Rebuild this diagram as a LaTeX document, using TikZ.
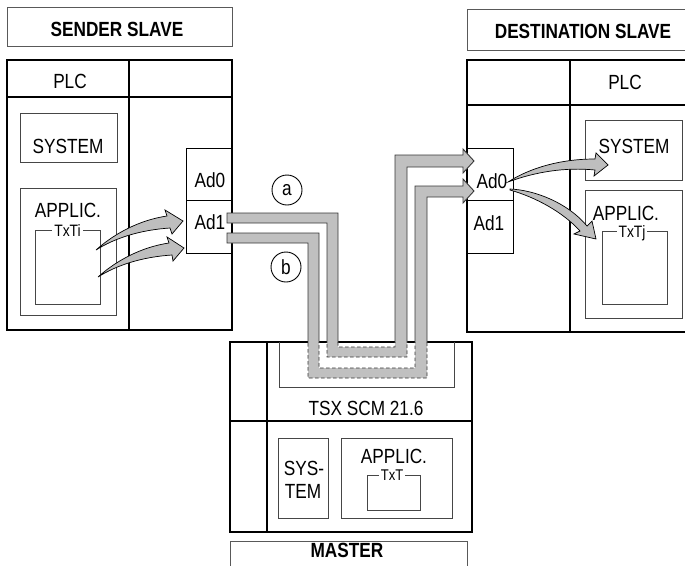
\documentclass[tikz,border=0pt]{standalone}
\usepackage{fontspec}
\setmainfont{Liberation Sans}[FakeStretch=0.84]
\definecolor{pipegray}{RGB}{192,192,192}
\definecolor{pipeedge}{RGB}{55,55,55}
\definecolor{arrowgray}{RGB}{190,190,190}
\definecolor{thinline}{RGB}{70,70,70}
\begin{document}
\begin{tikzpicture}[x=1pt,y=-1pt,
  thickbox/.style={draw=black, line width=2pt},
  thinbox/.style={draw=thinline, line width=0.9pt},
  adbox/.style={draw=black, line width=0.9pt},
  titlebox/.style={draw=black!65, line width=1pt},
  txt/.style={anchor=base, inner sep=0pt, font=\fontsize{20.5}{23}\selectfont},
  btxt/.style={anchor=base, inner sep=0pt, font=\fontsize{20.5}{23}\selectfont\bfseries},
  lbl/.style={anchor=base, inner xsep=2pt, inner ysep=0.3pt, fill=white, font=\fontsize{16.5}{19}\selectfont},
  slbl/.style={anchor=base, inner xsep=2pt, inner ysep=0.3pt, fill=white, font=\fontsize{15.5}{18}\selectfont},
  pipefill/.style={fill=pipegray},
  pipeline/.style={draw=pipeedge, line width=0.9pt},
  pipedash/.style={draw=pipeedge, line width=0.9pt, dash pattern=on 3.5pt off 2.5pt},
  swoosh/.style={fill=arrowgray, draw=black, line width=0.7pt, line join=miter},
  circ/.style={circle, draw=black, line width=0.9pt, minimum size=30pt, inner sep=0pt, font=\fontsize{20.5}{23}\selectfont}
]
\clip (0,0) rectangle (685,565);
\fill[white] (0,0) rectangle (685,565);

% ---------- SENDER SLAVE ----------
\draw[titlebox] (7,7) rectangle (232,46);
\node[btxt] (sendtitle) at (117,36) {SENDER SLAVE};
\draw[thickbox] (7,60) rectangle (232,330);
\draw[line width=2pt] (129,60) -- (129,330);
\draw[line width=2pt] (7,97) -- (232,97);
\node[txt] (splc) at (70,88) {PLC};
\draw[thinbox] (20,113) rectangle (117,162);
\node[txt] (ssys) at (68,153) {SYSTEM};
\draw[thinbox] (20,188) rectangle (116,315);
\node[txt] (sapp) at (68,217) {APPLIC.};
\draw[thinbox] (35,230) rectangle (100,304);
\node[lbl] (stxti) at (67.5,236) {TxTi};
\draw[adbox] (186,148) rectangle (232,200);
\draw[adbox] (186,200) rectangle (232,253);
\node[txt] (sad0) at (210,187) {Ad0};
\node[txt] (sad1) at (210,229) {Ad1};

% ---------- DESTINATION SLAVE ----------
\draw[titlebox] (467,9) rectangle (700,50);
\node[btxt] (desttitle) at (583,38) {DESTINATION SLAVE};
\draw[thickbox] (467,60) rectangle (700,332);
\draw[line width=2pt] (570,60) -- (570,332);
\draw[line width=2pt] (467,105) -- (700,105);
\node[txt] (dplc) at (625,89) {PLC};
\draw[thinbox] (585,120) rectangle (682,180);
\node[txt] (dsys) at (634,153) {SYSTEM};
\draw[thinbox] (585,190) rectangle (682,318);
\node[txt] (dapp) at (626,220) {APPLIC.};
\draw[thinbox] (602,231) rectangle (667,304);
\node[lbl] (dtxtj) at (632,237.5) {TxTj};
\draw[adbox] (467,148) rectangle (513,200);
\draw[adbox] (467,200) rectangle (513,253);
\node[txt] (dad0) at (492,188) {Ad0};
\node[txt] (dad1) at (489,230) {Ad1};

% ---------- MASTER ----------
\draw[thickbox] (230,342) rectangle (472,532);
\draw[line width=1.2pt] (267,342) -- (267,532);
\draw[line width=2pt] (230,421) -- (472,421);
\draw[thinbox] (279,342) -- (279,387) -- (454,387) -- (454,342);
\node[txt] (tsx) at (366,415) {TSX SCM 21.6};
\draw[thinbox] (278,438) rectangle (328,518);
\node[txt] (msys1) at (304,475) {SYS-};
\node[txt] (msys2) at (303,498) {TEM};
\draw[thinbox] (341,438) rectangle (452,518);
\node[txt] (mapp) at (394,463) {APPLIC.};
\draw[thinbox] (367,475) rectangle (420,510);
\node[slbl] (mtxt) at (392,480.5) {TxT};
\draw[titlebox] (230,541) rectangle (467,580);
\node[btxt] (mastertitle) at (347,557) {MASTER};

% ---------- circles ----------
\node[circ] (ca) at (287,190) {a};
\node[circ] (cb) at (286,267) {b};

% ---------- pipes ----------
\def\pipeA{(227,213) -- (338,213) -- (338,347) -- (395,347) -- (395,155) -- (463,155) -- (463,149) -- (474,161) -- (463,173) -- (463,167) -- (407,167) -- (407,357) -- (327,357) -- (327,223) -- (227,223) -- cycle}
\def\pipeB{(227,233) -- (319,233) -- (319,368) -- (415,368) -- (415,186) -- (463,186) -- (463,179) -- (474,191) -- (463,203) -- (463,197) -- (427,197) -- (427,378) -- (308,378) -- (308,243) -- (227,243) -- cycle}
\path[pipefill] \pipeA;
\path[pipefill] \pipeB;
\begin{scope}
  \clip (0,0) rectangle (685,342);
  \draw[pipeline] \pipeA;
  \draw[pipeline] \pipeB;
\end{scope}
\begin{scope}
  \clip (0,342) rectangle (685,565);
  \draw[pipedash] \pipeA;
  \draw[pipedash] \pipeB;
\end{scope}

% ---------- curved arrows ----------
\draw[swoosh] (96,250) .. controls (115,233) and (140,220) .. (167,216) -- (165,210) -- (183,221) -- (172,234) -- (170,228) .. controls (140,230) and (115,238) .. (96,250) -- cycle;
\draw[swoosh] (98,277) .. controls (117,260) and (142,247) .. (169,243) -- (167,237) -- (184,248) -- (173,261) -- (172,255) .. controls (142,257) and (117,265) .. (98,277) -- cycle;
\draw[swoosh] (508,182) .. controls (530,168) and (560,159) .. (595,159) -- (596,153) -- (608,165) -- (594,176) -- (595,170) .. controls (565,167) and (535,172) .. (508,182) -- cycle;
\draw[swoosh] (510,189) .. controls (535,190) and (568,203) .. (587,226) -- (592,221) -- (596,239) -- (574,234) -- (580,231) .. controls (563,212) and (535,197) .. (510,190) -- cycle;
\end{tikzpicture}
\end{document}
